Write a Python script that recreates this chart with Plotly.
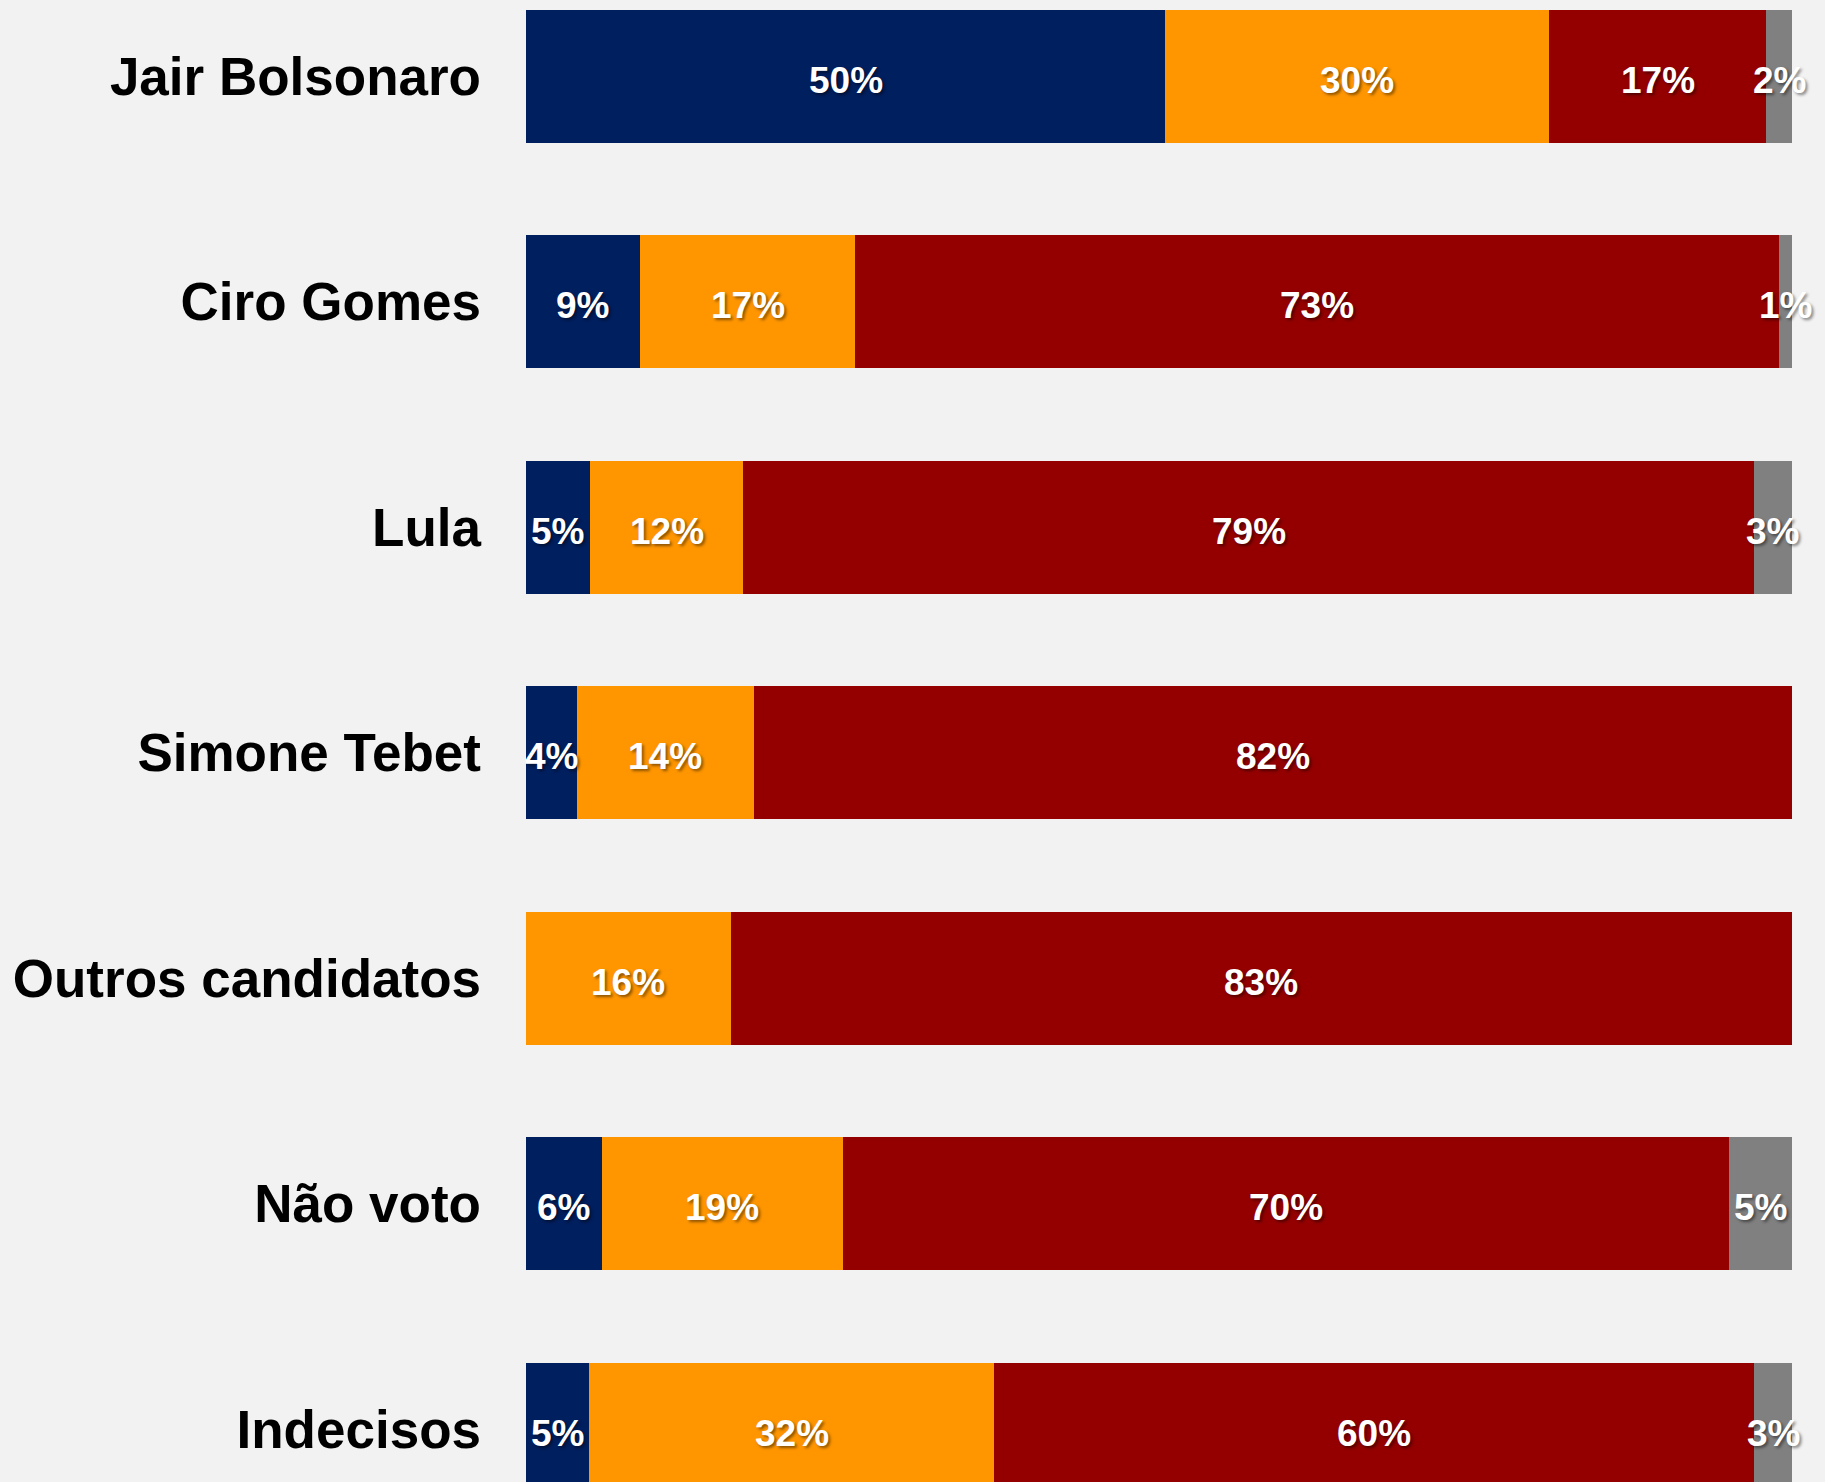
import plotly.graph_objects as go

# Candidate / voter groups, top to bottom
categories = ["Jair Bolsonaro", "Ciro Gomes", "Lula", "Simone Tebet",
              "Outros candidatos", "Não voto", "Indecisos"]

# Share of each group by government evaluation (%); 0 = no segment
otimo_bom = [50, 9, 5, 4, 0, 6, 5]
regular = [30, 17, 12, 14, 16, 19, 32]
ruim_pessimo = [17, 73, 79, 82, 83, 70, 60]
nao_sabe = [2, 1, 3, 0, 0, 5, 3]

series = [
    ("Ótimo/Bom", otimo_bom, "#001F5F"),
    ("Regular", regular, "#FF9600"),
    ("Ruim/Péssimo", ruim_pessimo, "#940000"),
    ("Não sabe", nao_sabe, "#808080"),
]

FONT = "Arial, 'Liberation Sans', sans-serif"

fig = go.Figure()
for name, vals, color in series:
    fig.add_trace(go.Bar(
        name=name,
        y=categories,
        x=vals,
        orientation="h",
        marker=dict(color=color, line=dict(width=0)),
        hoverinfo="skip",
    ))

# Segment labels, centred on each (row-normalised) segment
totals = [sum(s[1][i] for s in series) for i in range(len(categories))]
for i, cat in enumerate(categories):
    start = 0
    for _, vals, _ in series:
        v = vals[i]
        if v > 0:
            fig.add_annotation(
                x=(start + v / 2) / totals[i] * 100,
                y=cat,
                xref="x", yref="y",
                text=f"{v}%",
                showarrow=False,
                xanchor="center", yanchor="middle",
                yshift=-4,
                font=dict(family=FONT, size=37, color="white", weight="bold",
                          shadow="2px 2px 3px rgba(0,0,0,0.45)"),
            )
        start += v

fig.update_layout(
    barmode="stack",
    barnorm="percent",
    bargap=0.4115,
    width=1825,
    height=1482,
    margin=dict(l=526, r=33, t=0, b=0, pad=0),
    paper_bgcolor="#F2F2F2",
    plot_bgcolor="#F2F2F2",
    showlegend=False,
    xaxis=dict(range=[0, 100], visible=False, fixedrange=True),
    yaxis=dict(
        type="category",
        categoryorder="array",
        categoryarray=categories,
        range=[6.234, -0.338],
        showgrid=False,
        zeroline=False,
        showline=False,
        ticks="",
        ticklabelstandoff=44,
        tickfont=dict(family=FONT, size=53, color="black", weight="bold"),
    ),
)

fig.write_html("out.html")
